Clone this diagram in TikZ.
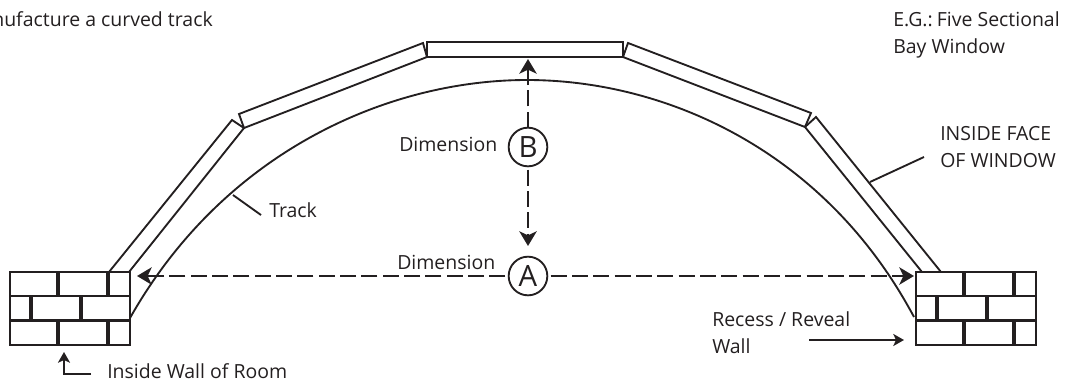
\documentclass[tikz,border=0pt]{standalone}
\usepackage{fontspec}
\setmainfont{Open Sans}
\usetikzlibrary{arrows.meta}
\definecolor{ink}{HTML}{231F20}
\tikzstyle{label} = [inner sep=0pt, text=ink, font=\fontsize{14.6}{20}\selectfont, anchor=base west, align=left]
\tikzstyle{dimcircle} = [circle, draw=ink, line width=1.4pt, minimum size=29pt, inner sep=0pt, outer sep=2.5pt, text=ink, font=\fontsize{22}{22}\selectfont]
\tikzstyle{wall} = [rectangle, draw=ink, line width=1.6pt, minimum width=90pt, minimum height=54.75pt, inner sep=0pt, outer sep=0pt]
\tikzstyle{line} = [draw=ink, line width=1.4pt]
\tikzstyle{dimline} = [draw=ink, line width=1.7pt, dash pattern=on 12pt off 4pt, -{Stealth[length=11pt,width=13pt,inset=3pt]}]
\tikzstyle{leader} = [draw=ink, line width=1.5pt, -{Stealth[length=8pt,width=9pt,inset=2pt]}]

\begin{document}
\begin{tikzpicture}[x=0.75pt,y=-0.75pt]
    \useasboundingbox (0,0) rectangle (1065,383);
    \node [wall] (leftwall) at (70,308.5) {};
    \node [wall] (rightwall) at (976,308.5) {};

    % bricks
    \foreach \wallx in {10,916} {
      \draw [line, line width=1.6pt] (\wallx,296) -- +(120,0) (\wallx,320.5) -- +(120,0);
      \foreach \brickx in {48,98} {
        \draw [line, line width=2.6pt] (\wallx+\brickx,272) -- +(0,24);
        \draw [line, line width=2.6pt] (\wallx+\brickx,320.5) -- +(0,24.5);
      }
      \foreach \brickx in {21,71} {
        \draw [line, line width=2.6pt] (\wallx+\brickx,296) -- +(0,24.5);
      }
    }

    % window sections
    \draw [line] (109,272) -- (232,120) -- (244,128) -- (129,272);
    \draw [line] (244,128) -- (239,114) -- (423,43) -- (427,57) -- cycle;
    \draw [line] (427,42) rectangle (623,57);
    \draw [line] (623,57) -- (628,43) -- (811,113) -- (805,127) -- cycle;
    \draw [line] (805,127) -- (816,117) -- (941,272);
    \draw [line] (805,127) -- (922,272);

    % track
    \draw [line] (130,318) .. controls (225,150) and (390,80) .. (527,80)
      .. controls (665,80) and (825,150) .. (914,317);

    % dimension circles
    \node [dimcircle] (dimA) at (528,276) {A};
    \node [dimcircle] (dimB) at (528,147) {B};
    \coordinate (tipleft) at (137,276);
    \coordinate (tipright) at (914,276);
    \coordinate (tiptop) at (528,59);
    \coordinate (tipdown) at (528,246);
    \draw [dimline] (dimA) -- (tipleft);
    \draw [dimline] (dimA) -- (tipright);
    \draw [dimline, shorten <=-2.5pt] (dimB) -- (tiptop);
    \draw [dimline] (dimB) -- (tipdown);

    % labels
    \node [label] (dimlabelB) at (399,151) {Dimension};
    \node [label] (dimlabelA) at (397,269) {Dimension};
    \node [label] (tracklabel) at (269,217) {Track};
    \node [label] (roomlabel) at (107,378) {Inside Wall of Room};
    \node [label] (recesslabel) at (712,353) {Recess / Reveal\\Wall};
    \node [label] (baylabel) at (893,53) {E.G.:\hspace{-2pt} Five Sectional\\Bay Window};
    \node [label] (facelabel) at (940,167) {INSIDE FACE\\OF WINDOW};
    \node [label, anchor=base east] (curvedlabel) at (213,26) {nufacture a curved track};

    % leaders
    \coordinate (trackend) at (233,195);
    \coordinate (trackstart) at (261,215);
    \coordinate (facestart) at (924,157);
    \coordinate (faceend) at (870,182);
    \coordinate (roomstart) at (91,374);
    \coordinate (roomtip) at (64,352);
    \coordinate (recessstart) at (809,340);
    \coordinate (recesstip) at (904,340);
    \draw [line] (trackstart) -- (trackend);
    \draw [line] (facestart) -- (faceend);
    \draw [leader] (roomstart) -| (roomtip);
    \draw [leader] (recessstart) -- (recesstip);
  \end{tikzpicture}
\end{document}
